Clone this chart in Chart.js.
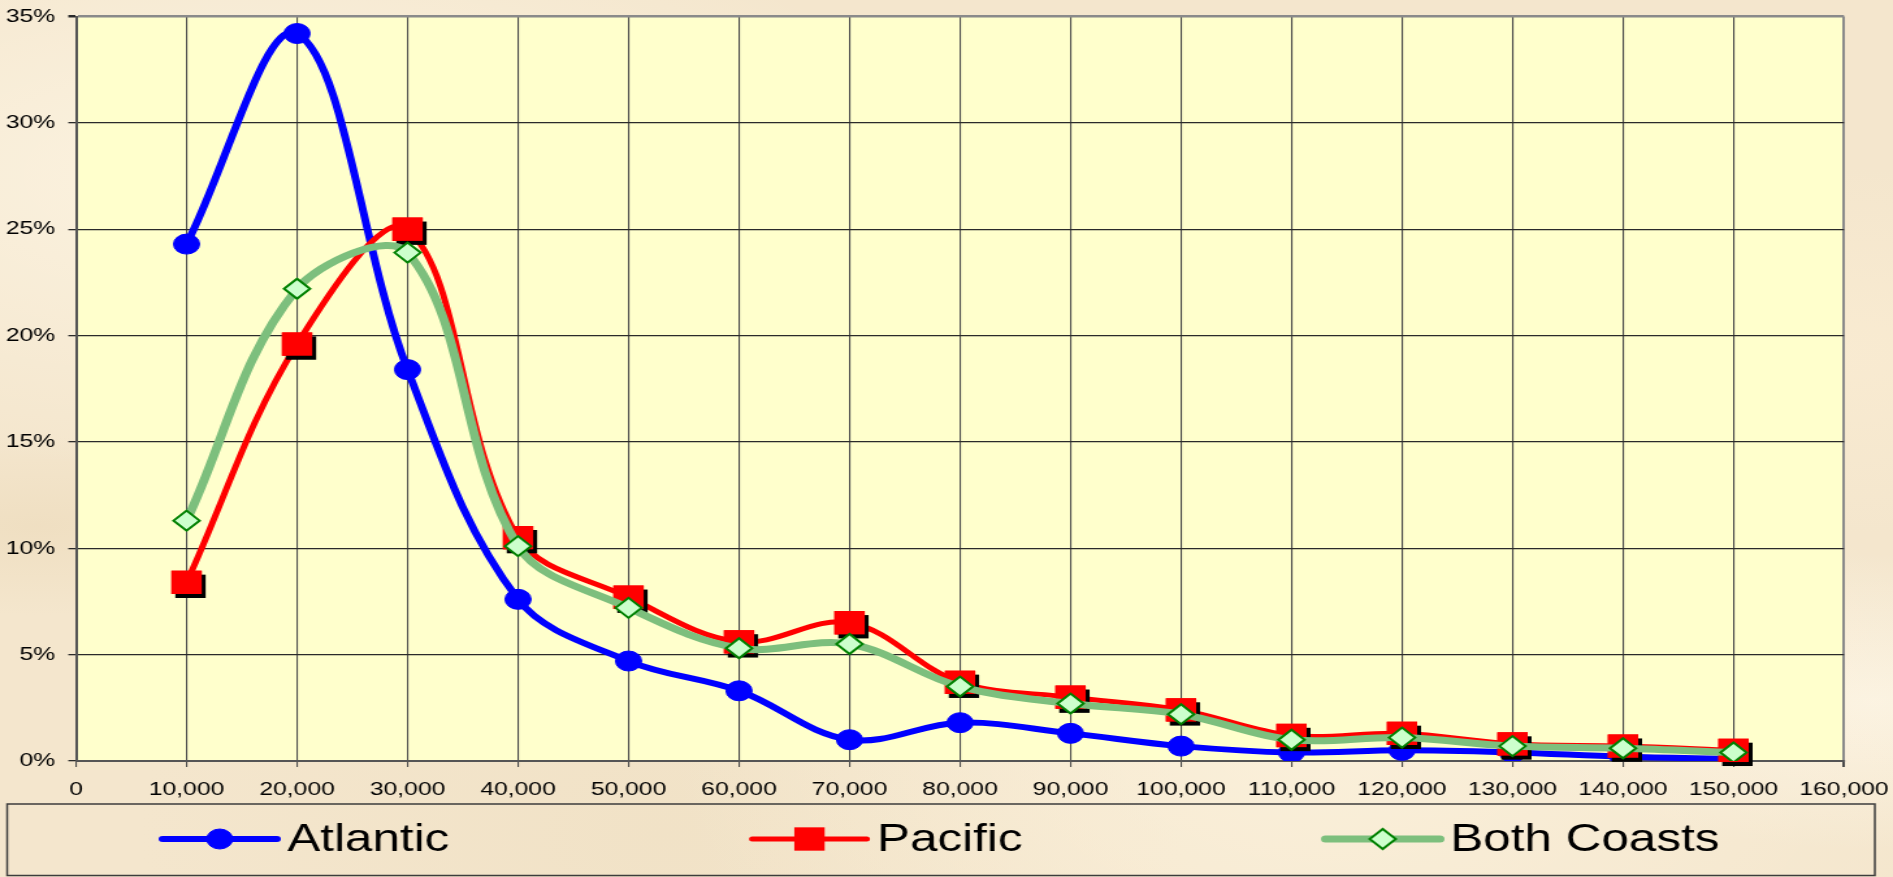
<!DOCTYPE html>
<html>
<head>
<meta charset="utf-8">
<script src="https://cdn.jsdelivr.net/npm/chart.js@4/dist/chart.umd.min.js"></script>
<style>
  html, body { margin: 0; padding: 0; overflow: hidden; }
  body {
    width: 1893px; height: 877px;
    background-color: #f4e6cd;
    background-image:
      radial-gradient(ellipse at 12% 20%, rgba(255,248,232,0.7), rgba(255,248,232,0) 30%),
      radial-gradient(ellipse at 70% 85%, rgba(255,246,226,0.6), rgba(255,246,226,0) 35%),
      radial-gradient(ellipse at 95% 40%, rgba(250,236,210,0.8), rgba(250,236,210,0) 25%),
      radial-gradient(ellipse at 35% 95%, rgba(238,222,192,0.5), rgba(238,222,192,0) 30%),
      radial-gradient(ellipse at 2% 60%, rgba(236,218,186,0.6), rgba(236,218,186,0) 12%),
      radial-gradient(ellipse at 99% 80%, rgba(255,248,234,0.7), rgba(255,248,234,0) 15%);
  }
  /* the original picture is stretched sideways, so draw narrow and stretch */
  #wrap { position: absolute; left: 0; top: 0; width: 1456px; height: 877px;
          transform: scaleX(1.30014); transform-origin: 0 0; }
</style>
</head>
<body>
<div id="wrap"><canvas id="chart"></canvas></div>
<script>
const incomes = [10000, 20000, 30000, 40000, 50000, 60000, 70000, 80000,
                 90000, 100000, 110000, 120000, 130000, 140000, 150000];
const atlantic   = [24.3, 34.2, 18.4, 7.6, 4.7, 3.3, 1.0, 1.8, 1.3, 0.7, 0.4, 0.5, 0.4, 0.2, 0.1];
const pacific    = [8.4, 19.6, 25.0, 10.5, 7.7, 5.6, 6.5, 3.7, 3.0, 2.4, 1.2, 1.3, 0.8, 0.7, 0.5];
const bothCoasts = [11.3, 22.2, 23.9, 10.1, 7.2, 5.3, 5.5, 3.5, 2.7, 2.2, 1.0, 1.1, 0.7, 0.6, 0.4];
const seriesNames = ['Atlantic', 'Pacific', 'Both Coasts'];
const xMax = 160000, xStep = 10000;
const yMax = 35, yStep = 5;

const FONT = '"Liberation Sans", Arial, sans-serif';

function points(values) {
  return incomes.map((x, i) => ({ x: x, y: values[i] }));
}

// pale yellow plot area
const plotBackground = {
  id: 'plotBackground',
  beforeDraw(chart) {
    const { ctx, chartArea: a } = chart;
    ctx.save();
    ctx.fillStyle = '#ffffcc';
    ctx.fillRect(a.left, a.top, a.width, a.height);
    ctx.restore();
  }
};

// black drop shadow under the Pacific squares
const squareShadow = {
  id: 'squareShadow',
  afterDatasetDraw(chart, args) {
    if (args.index !== 1) return;
    const ctx = chart.ctx;
    ctx.save();
    args.meta.data.forEach(pt => {
      const o = pt.options;
      ctx.fillStyle = '#000';
      Chart.helpers.drawPoint(ctx, { pointStyle: 'rect', radius: o.radius, rotation: 0, borderWidth: 0 }, pt.x + 3, pt.y + 4);
      ctx.fillStyle = o.backgroundColor;
      Chart.helpers.drawPoint(ctx, { pointStyle: 'rect', radius: o.radius, rotation: 0, borderWidth: 0 }, pt.x, pt.y);
    });
    ctx.restore();
  }
};

// boxed legend below the axis
const boxLegend = {
  id: 'boxLegend',
  afterDraw(chart) {
    const ctx = chart.ctx;
    const box = { left: 5.5, right: 1442, top: 804, bottom: 875.5 };
    ctx.save();
    ctx.strokeStyle = '#3c3c3c';
    ctx.lineWidth = 1.5;
    ctx.strokeRect(box.left, box.top, box.right - box.left, box.bottom - box.top);

    ctx.font = '38px ' + FONT;
    const lineLen = 88, textGap = 8, itemGap = 233;
    const sets = chart.data.datasets;
    const widths = sets.map(ds => lineLen + textGap + ctx.measureText(ds.label).width);
    const total = widths.reduce((a, b) => a + b, 0) + itemGap * (sets.length - 1);
    let x = (box.left + box.right) / 2 - total / 2;
    const y = 839;
    sets.forEach((ds, i) => {
      ctx.strokeStyle = ds.borderColor;
      ctx.lineWidth = ds.borderWidth;
      ctx.lineCap = 'round';
      ctx.beginPath();
      ctx.moveTo(x, y);
      ctx.lineTo(x + lineLen, y);
      ctx.stroke();
      ctx.fillStyle = ds.pointBackgroundColor;
      ctx.strokeStyle = ds.pointBorderColor;
      ctx.lineWidth = ds.pointBorderWidth;
      Chart.helpers.drawPoint(ctx, { pointStyle: ds.pointStyle, radius: ds.pointRadius, rotation: 0,
                                     borderWidth: ds.pointBorderWidth }, x + lineLen / 2, y);
      ctx.fillStyle = '#000';
      ctx.textBaseline = 'middle';
      ctx.textAlign = 'left';
      ctx.fillText(ds.label, x + lineLen + textGap, y + 2);
      x += widths[i] + itemGap;
    });
    ctx.restore();
  }
};

const ctx = document.getElementById('chart').getContext('2d');
new Chart(ctx, {
  type: 'line',
  data: {
    datasets: [
      {
        label: seriesNames[0], data: points(atlantic), order: 3,
        borderColor: '#0000ff', borderWidth: 6,
        pointStyle: 'circle', pointRadius: 10,
        pointBackgroundColor: '#0000ff', pointBorderColor: '#0000ff', pointBorderWidth: 1
      },
      {
        label: seriesNames[1], data: points(pacific), order: 2,
        borderColor: '#ff0000', borderWidth: 5,
        pointStyle: 'rect', pointRadius: 16.5,
        pointBackgroundColor: '#ff0000', pointBorderColor: '#ff0000', pointBorderWidth: 0
      },
      {
        label: seriesNames[2], data: points(bothCoasts), order: 1,
        borderColor: '#7dbf7d', borderWidth: 7,
        pointStyle: 'rectRot', pointRadius: 10,
        pointBackgroundColor: '#ccffcc', pointBorderColor: '#008000', pointBorderWidth: 2
      }
    ]
  },
  options: {
    responsive: true,
    maintainAspectRatio: false,
    animation: false,
    layout: { padding: { left: 0, top: 13, right: 37.7, bottom: 74 } },
    elements: { line: { tension: 0.36, cubicInterpolationMode: 'default' } },
    plugins: { legend: { display: false }, tooltip: { enabled: false } },
    scales: {
      x: {
        type: 'linear', min: 0, max: xMax,
        afterFit(scale) {
          scale.height = 42;
          scale.paddingLeft = 0;
          scale.paddingRight = 0;
        },
        ticks: {
          stepSize: xStep, autoSkip: false, maxRotation: 0, padding: 11,
          color: '#000', font: { family: FONT, size: 19 },
          callback: v => v.toLocaleString('en-US')
        },
        grid: {
          drawTicks: true, tickLength: 6,
          color: c => c.tick && c.tick.value === xMax ? '#8a8a8a' : '#4a4a4a',
          lineWidth: c => c.tick && c.tick.value === xMax ? 2 : 1.1,
          tickColor: '#4a4a4a'
        },
        border: { display: true, color: '#555', width: 2 }
      },
      y: {
        min: 0, max: yMax,
        afterFit(scale) {
          scale.width = 58.5;
          scale.paddingTop = 0;
          scale.paddingBottom = 0;
        },
        ticks: {
          stepSize: yStep, padding: 10,
          color: '#000', font: { family: FONT, size: 19 },
          callback: v => v + '%'
        },
        grid: {
          drawTicks: true, tickLength: 6,
          color: c => c.tick && c.tick.value === yMax ? '#8a8a8a' : '#2a2a2a',
          lineWidth: c => c.tick && c.tick.value === yMax ? 2.5 : 1.3,
          tickColor: '#2a2a2a'
        },
        border: { display: true, color: '#555', width: 2 }
      }
    }
  },
  plugins: [plotBackground, squareShadow, boxLegend]
});
</script>
</body>
</html>
